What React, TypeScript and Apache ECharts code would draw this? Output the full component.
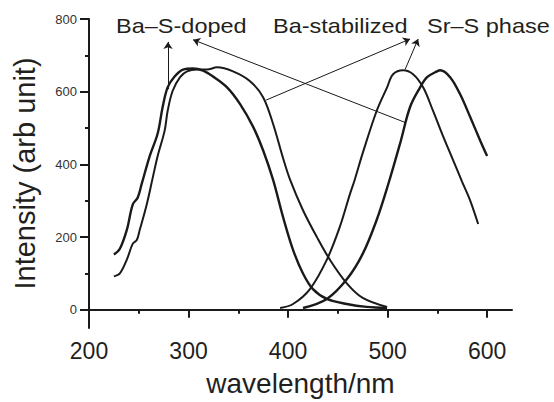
import React, { useEffect, useRef } from "react";
import * as echarts from "echarts";

// Ba–S-doped excitation (outer left curve)
const baSDopedExcX = [225, 231, 238, 244, 249, 253, 261, 269, 274, 279, 286, 294.5, 304.5, 314.6, 324.6, 338.7, 351.8, 364.8, 374.9, 384.9, 395, 405, 415, 425, 439, 459, 479, 499.5];
const baSDopedExcY = [152, 168, 220, 290, 309, 347, 423, 485, 558, 612, 642, 661, 664, 658, 642, 612, 566, 504, 439, 358, 255, 165, 100, 57, 30, 16, 8, 5];

// Ba-stabilized excitation (inner left curve)
const baStabExcX = [225, 231, 238, 244, 248, 251, 258, 264, 269, 276, 279, 284, 291.5, 298.5, 308.5, 318.6, 328.6, 344.7, 361.8, 374.9, 384.9, 395, 402, 415, 429, 442, 459, 475, 499.5];
const baStabExcY = [92, 100, 138, 182, 192, 220, 290, 363, 423, 493, 547, 602, 640, 656, 661, 661, 667, 656, 629, 585, 512, 417, 358, 274, 200, 138, 73, 33, 8];

// Sr–S phase emission (peak ~517 nm)
const srSEmX = [392, 405, 422, 439, 452, 462, 467, 475, 489, 499.5, 505.5, 515.6, 525.6, 535.7, 545.7, 555.8, 565.8, 574.9, 582.9, 591];
const srSEmY = [5, 16, 57, 138, 228, 317, 358, 431, 547, 612, 648, 659, 648, 612, 547, 477, 412, 352, 301, 236];

// Ba–S-doped emission (peak ~551 nm)
const baSDopedEmX = [415, 439, 459, 475, 489, 500.5, 512.6, 522.6, 532.7, 539.7, 549.7, 552.8, 562.8, 572.9, 582.9, 593, 600];
const baSDopedEmY = [5, 30, 84, 154, 247, 344, 458, 558, 612, 640, 656, 659, 640, 593, 531, 466, 423];

// axis ticks
const xMajorTicks = [200, 300, 400, 500, 600];
const xMinorTicks = [250, 350, 450, 550];
const yMajorTicks = [0, 200, 400, 600, 800];
const yMinorTicks = [100, 300, 500, 700];

// annotation arrows: [tailX, tailY, headX, headY] in data units
const arrowBaSDopedExc = [279.4, 607, 279.4, 737];
const arrowBaSDopedEm = [518, 515, 304.5, 743];
const arrowBaStab = [378, 577, 522.6, 745];
const arrowSrS = [517.6, 661, 530.7, 745];

const labels = ["Ba–S-doped", "Ba-stabilized", "Sr–S phase"];

const FONT = "'Liberation Sans', Arial, Helvetica, sans-serif";
const INK = "#1a1a1a";

function pairs(xs: number[], ys: number[]) {
  return xs.map((x, i) => [x, ys[i]]);
}

function arrow(a: number[]) {
  return [{ coord: [a[0], a[1]] }, { coord: [a[2], a[3]] }];
}

export default function App() {
  const ref = useRef<HTMLDivElement>(null);
  useEffect(() => {
    if (!ref.current) return;
    const chart = echarts.init(ref.current, undefined, { renderer: "svg" });
    const markLine = (arrs: number[][]) => ({
      silent: true,
      symbol: ["none", "arrow"],
      symbolSize: 7,
      label: { show: false },
      emphasis: { disabled: true },
      itemStyle: { color: INK },
      lineStyle: { color: INK, width: 1, type: "solid" },
      data: arrs.map(arrow),
    });
    const lineSeries = (name: string, data: number[][], width: number, ml?: any) => ({
      type: "line",
      name,
      data,
      showSymbol: false,
      smooth: 0.35,
      lineStyle: { color: INK, width },
      itemStyle: { color: INK },
      emphasis: { disabled: true },
      markLine: ml,
    });
    const tickAxisCommon = {
      axisLine: { show: false },
      axisLabel: { show: false },
      splitLine: { show: false },
    };
    chart.setOption({
      animation: false,
      backgroundColor: "#ffffff",
      grid: { left: 89, top: 19, right: 42, bottom: 69 },
      xAxis: [
        {
          type: "value",
          min: 200,
          max: 625,
          name: "wavelength/nm",
          nameLocation: "middle",
          nameGap: 41,
          nameTextStyle: { fontSize: 28, color: "#231f20", fontFamily: FONT },
          axisLine: { show: true, lineStyle: { color: INK, width: 2 } },
          axisTick: { show: true, inside: false, length: 8, customValues: xMajorTicks, lineStyle: { color: INK, width: 2 } },
          axisLabel: { show: true, customValues: xMajorTicks, fontSize: 23, color: "#231f20", fontFamily: FONT, margin: 11 },
          splitLine: { show: false },
        },
        {
          type: "value",
          min: 200,
          max: 625,
          position: "bottom",
          ...tickAxisCommon,
          axisTick: { show: true, inside: false, length: 4, customValues: xMinorTicks, lineStyle: { color: INK, width: 2 } },
        },
      ],
      yAxis: [
        {
          type: "value",
          min: -50,
          max: 800,
          name: "Intensity (arb unit)",
          nameLocation: "middle",
          nameGap: 50,
          nameTextStyle: { fontSize: 29, color: "#231f20", fontFamily: FONT },
          axisLine: { show: true, lineStyle: { color: INK, width: 2 } },
          axisTick: { show: true, inside: false, length: 9, customValues: yMajorTicks, lineStyle: { color: INK, width: 2 } },
          axisLabel: { show: true, customValues: yMajorTicks, fontSize: 13, color: "#333333", fontFamily: FONT, margin: 12 },
          splitLine: { show: false },
        },
        {
          type: "value",
          min: -50,
          max: 800,
          position: "left",
          ...tickAxisCommon,
          axisTick: { show: true, inside: false, length: 4, customValues: yMinorTicks, lineStyle: { color: INK, width: 2 } },
        },
      ],
      series: [
        lineSeries("Ba–S-doped excitation", pairs(baSDopedExcX, baSDopedExcY), 2.4, markLine([arrowBaSDopedExc, arrowBaSDopedEm])),
        lineSeries("Ba-stabilized excitation", pairs(baStabExcX, baStabExcY), 2, markLine([arrowBaStab])),
        lineSeries("Sr–S phase emission", pairs(srSEmX, srSEmY), 2, markLine([arrowSrS])),
        lineSeries("Ba–S-doped emission", pairs(baSDopedEmX, baSDopedEmY), 2.4),
      ],
      graphic: [
        { type: "text", x: 116, y: 25.5, scaleX: 1.12, silent: true, style: { text: labels[0], fontSize: 21, fontFamily: FONT, fill: "#231f20", verticalAlign: "middle", align: "left" } },
        { type: "text", x: 273, y: 25.5, scaleX: 1.12, silent: true, style: { text: labels[1], fontSize: 21, fontFamily: FONT, fill: "#231f20", verticalAlign: "middle", align: "left" } },
        { type: "text", x: 427, y: 25.5, scaleX: 1.12, silent: true, style: { text: labels[2], fontSize: 21, fontFamily: FONT, fill: "#231f20", verticalAlign: "middle", align: "left" } },
      ],
    });
    return () => chart.dispose();
  }, []);
  return <div ref={ref} style={{ position: "fixed", left: 0, top: 0, width: 554, height: 402 }} />;
}
